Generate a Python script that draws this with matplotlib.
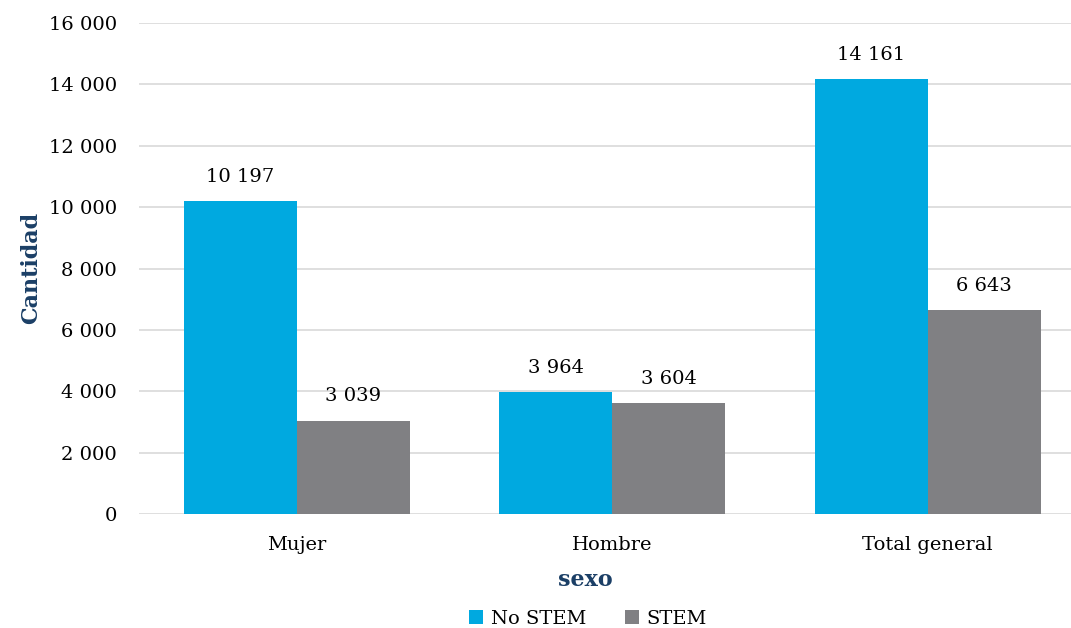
import matplotlib.pyplot as plt
import numpy as np

categorias = ["Mujer", "Hombre", "Total general"]
no_stem = [10197, 3964, 14161]
stem = [3039, 3604, 6643]
series = ["No STEM", "STEM"]

plt.rcParams['font.family'] = ['DejaVu Serif']

azul = '#00A9E0'
gris = '#808083'
navy = '#1B3F66'


def fmt(v):
    return f"{v:,.0f}".replace(",", " ")


fig = plt.figure(figsize=(10.71, 6.28), dpi=100)
ax = fig.add_axes([0.1298, 0.1815, 0.8838, 0.7818])

x = np.arange(len(categorias))
w = 0.358
b1 = ax.bar(x - w / 2, no_stem, w, color=azul, label=series[0], zorder=2)
b2 = ax.bar(x + w / 2, stem, w, color=gris, label=series[1], zorder=2)

for bars, vals in ((b1, no_stem), (b2, stem)):
    for r, v in zip(bars, vals):
        ax.annotate(fmt(v), (r.get_x() + r.get_width() / 2, v), xytext=(0, 11),
                    textcoords='offset points', ha='center', va='bottom', fontsize=14)

ax.set_xlim(-0.5, 2.5)
ax.set_ylim(0, 16000)
ax.set_yticks(np.arange(0, 16001, 2000))
ax.set_yticklabels([fmt(v) for v in np.arange(0, 16001, 2000)], fontsize=14)
ax.set_xticks(x)
ax.set_xticklabels(categorias, fontsize=14)
ax.tick_params(axis='both', length=0)
ax.tick_params(axis='y', pad=16)
ax.tick_params(axis='x', pad=16)
ax.yaxis.grid(True, color='#D9D9D9', linewidth=1.2, zorder=0)
ax.set_axisbelow(True)
for s in ax.spines.values():
    s.set_visible(False)

fig.text(0.029, 0.573, "Cantidad", rotation=90, ha='center', va='center',
         fontsize=16, fontweight='bold', color=navy)
fig.text(0.547, 0.076, "sexo", ha='center', va='center', fontsize=16,
         fontweight='bold', color=navy)

fig.legend(handles=[b1, b2], labels=series, loc='center', bbox_to_anchor=(0.549, 0.015),
           ncol=2, frameon=False, fontsize=14, handlelength=0.7, handleheight=0.7,
           handletextpad=0.4, columnspacing=2.0)

fig.savefig("out.png", dpi=100)
